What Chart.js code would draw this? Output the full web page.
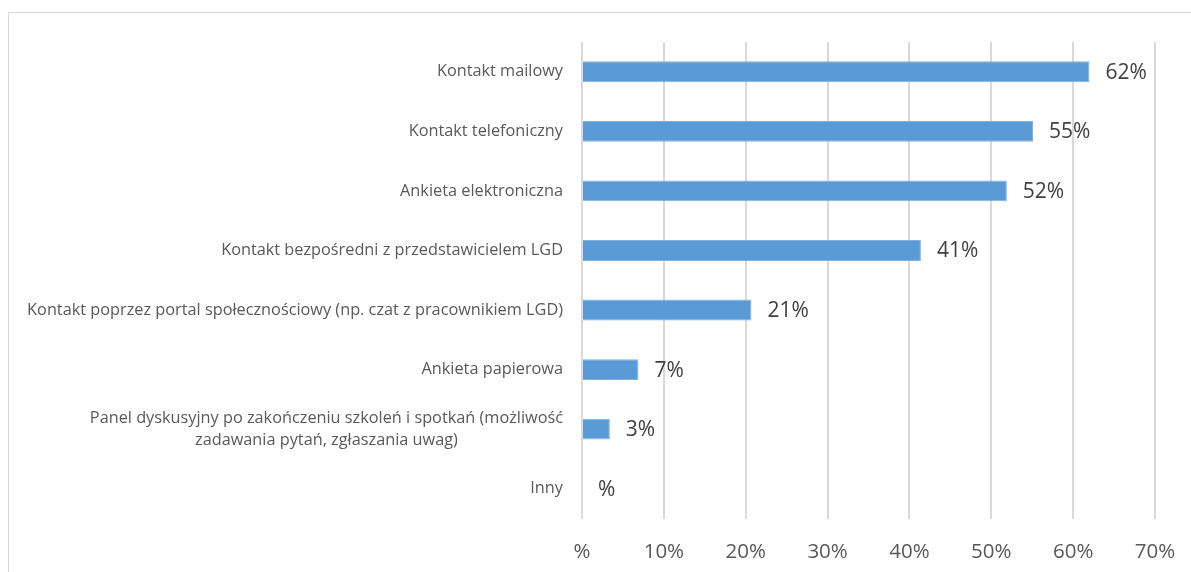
<!DOCTYPE html>
<html>
<head>
<meta charset="utf-8">
<script src="https://cdn.jsdelivr.net/npm/chart.js@4/dist/chart.umd.min.js"></script>
<style>
  html, body { margin: 0; padding: 0; background: #fff; overflow: hidden; }
  #frame { position: absolute; left: 8px; top: 12px; width: 1300px; height: 700px; border: 1px solid #d9d9d9; }
  #wrap { position: absolute; left: 0; top: 0; width: 1191px; height: 572px; }
</style>
</head>
<body>
<div id="frame"></div>
<div id="wrap"><canvas id="chart" width="1191" height="572"></canvas></div>
<script>
// kategorie (etykiety wieloliniowe jako tablice)
var categories = [
    ['Kontakt mailowy'],
    ['Kontakt telefoniczny'],
    ['Ankieta elektroniczna'],
    ['Kontakt bezpośredni z przedstawicielem LGD'],
    ['Kontakt poprzez portal społecznościowy (np. czat z pracownikiem LGD)'],
    ['Ankieta papierowa'],
    ['Panel dyskusyjny po zakończeniu szkoleń i spotkań (możliwość', 'zadawania pytań, zgłaszania uwag)'],
    ['Inny']
];
// wartości w %
var values = [62.0, 55.1, 51.9, 41.4, 20.7, 6.9, 3.4, 0];
var xTicks = [0, 10, 20, 30, 40, 50, 60, 70];

var font_family = '"Open Sans", "DejaVu Sans", sans-serif';

function pct(v) {
    return v === 0 ? '%' : Math.round(v) + '%';
}

// etykiety kategorii - pierwsza linia do prawej, kolejne wycentrowane pod nią
var categoryLabels = {
    id: 'categoryLabels',
    afterDraw: function(chart) {
        var ctx = chart.ctx;
        var yScale = chart.scales.y;
        var right = chart.chartArea.left - 19;
        ctx.save();
        ctx.font = '16.3px ' + font_family;
        ctx.fillStyle = '#595959';
        ctx.textBaseline = 'middle';
        ctx.textAlign = 'center';
        categories.forEach(function(lines, i) {
            var y = yScale.getPixelForTick(i);
            var maxW = 0;
            lines.forEach(function(l) { maxW = Math.max(maxW, ctx.measureText(l).width); });
            var cx = right - maxW / 2;
            var lh = 22;
            var y0 = y - (lines.length - 1) * lh / 2;
            lines.forEach(function(l, k) { ctx.fillText(l, cx, y0 + k * lh); });
        });
        ctx.restore();
    }
};

// etykiety wartości obok słupków
var valueLabels = {
    id: 'valueLabels',
    afterDatasetsDraw: function(chart) {
        var ctx = chart.ctx;
        var meta = chart.getDatasetMeta(0);
        ctx.save();
        ctx.font = '21px ' + font_family;
        ctx.fillStyle = '#404040';
        ctx.textBaseline = 'middle';
        ctx.textAlign = 'left';
        meta.data.forEach(function(bar, i) {
            ctx.fillText(pct(values[i]), bar.x + 16, bar.y + 1);
        });
        ctx.restore();
    }
};

new Chart(document.getElementById('chart').getContext('2d'), {
    type: 'bar',
    data: {
        labels: categories,
        datasets: [{
            data: values,
            backgroundColor: '#5b9bd5',
            borderColor: '#7fb0de',
            borderWidth: 1,
            barPercentage: 0.35,
            categoryPercentage: 1
        }]
    },
    options: {
        indexAxis: 'y',
        responsive: false,
        animation: false,
        devicePixelRatio: 1,
        layout: { padding: { left: 0, right: 36, top: 42, bottom: 0 } },
        plugins: { legend: { display: false }, tooltip: { enabled: false } },
        scales: {
            x: {
                min: 0,
                max: 70,
                afterBuildTicks: function(scale) {
                    scale.ticks = xTicks.map(function(v) { return { value: v }; });
                },
                afterFit: function(scale) {
                    scale.height = 572 - 42 - 476.5;
                    scale.paddingLeft = 0;
                    scale.paddingRight = 0;
                },
                grid: { color: '#d9d9d9', lineWidth: 2, drawTicks: false },
                border: { display: false },
                ticks: {
                    padding: 21,
                    color: '#595959',
                    font: { family: font_family, size: 20.5 },
                    callback: function(v) { return pct(v); }
                }
            },
            y: {
                afterFit: function(scale) { scale.width = 582; },
                grid: { display: false },
                border: { display: false },
                ticks: { display: false }
            }
        }
    },
    plugins: [categoryLabels, valueLabels]
});
</script>
</body>
</html>
